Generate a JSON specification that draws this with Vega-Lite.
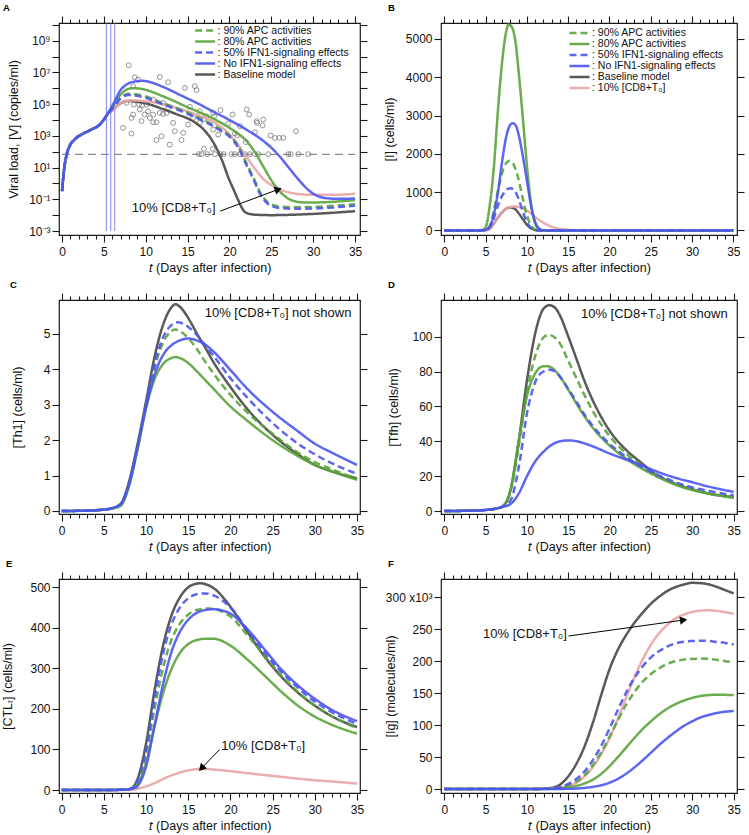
{
"$schema":"https://vega.github.io/schema/vega-lite/v6.json",
"padding":{"left":0,"top":2,"right":0,"bottom":0},
"config":{"font":"Liberation Sans","view":{"stroke":"#1a1a1a","strokeWidth":1.2},
"axis":{"domain":false,"grid":false,"tickColor":"#1a1a1a","tickWidth":1.1,"labelColor":"#111","titleColor":"#111","labelFontSize":12,"titleFontSize":12.5,"titleFontWeight":"normal","labelFont":"Liberation Sans","titleFont":"Liberation Sans"},
"legend":{"labelFont":"Liberation Sans"},"title":{"font":"Liberation Sans"}},
"datasets":{
"A":[
{"s":"k","t":0,"v":0.33},{"s":"k","t":0.3,"v":12.6},{"s":"k","t":0.5,"v":50},{"s":"k","t":0.9,"v":224},{"s":"k","t":1.5,"v":590},{"s":"k","t":2.5,"v":1350},{"s":"k","t":3.5,"v":2500},{"s":"k","t":4.5,"v":5100},{"s":"k","t":5,"v":10700},
{"s":"k","t":5.5,"v":25000},{"s":"k","t":6,"v":40000},{"s":"k","t":6.5,"v":71000},{"s":"k","t":7,"v":112000},{"s":"k","t":7.5,"v":148000},{"s":"k","t":8,"v":158000},{"s":"k","t":9,"v":141000},{"s":"k","t":10,"v":112000},{"s":"k","t":12,"v":50000},{"s":"k","t":14,"v":20000},{"s":"k","t":15,"v":12600},{"s":"k","t":16,"v":6300},{"s":"k","t":17,"v":2240},{"s":"k","t":18,"v":447},{"s":"k","t":19,"v":40},{"s":"k","t":20,"v":1.58},{"s":"k","t":20.5,"v":0.4},{"s":"k","t":21,"v":0.1},{"s":"k","t":21.5,"v":0.028},{"s":"k","t":22,"v":0.014},{"s":"k","t":23,"v":0.0107},{"s":"k","t":25,"v":0.01},{"s":"k","t":30,"v":0.012},{"s":"k","t":35,"v":0.0178},
{"s":"p","t":0,"v":0.33},{"s":"p","t":0.3,"v":12.6},{"s":"p","t":0.5,"v":50},{"s":"p","t":0.9,"v":224},{"s":"p","t":1.5,"v":590},{"s":"p","t":2.5,"v":1350},{"s":"p","t":3.5,"v":2500},{"s":"p","t":4.5,"v":5100},{"s":"p","t":5,"v":10700},
{"s":"p","t":5.5,"v":25000},{"s":"p","t":6,"v":40000},{"s":"p","t":6.5,"v":71000},{"s":"p","t":7,"v":112000},{"s":"p","t":7.5,"v":148000},{"s":"p","t":8,"v":166000},{"s":"p","t":9,"v":166000},{"s":"p","t":10,"v":151000},{"s":"p","t":12,"v":100000},{"s":"p","t":14,"v":52000},{"s":"p","t":15,"v":35000},{"s":"p","t":16,"v":22400},{"s":"p","t":18,"v":7900},{"s":"p","t":20,"v":1260},{"s":"p","t":21,"v":282},{"s":"p","t":22,"v":50},{"s":"p","t":23,"v":8.9},{"s":"p","t":24,"v":2},{"s":"p","t":25,"v":0.79},{"s":"p","t":26,"v":0.42},{"s":"p","t":27,"v":0.28},{"s":"p","t":28,"v":0.224},{"s":"p","t":30,"v":0.19},{"s":"p","t":32,"v":0.19},{"s":"p","t":35,"v":0.22},
{"s":"g8","t":0,"v":0.33},{"s":"g8","t":0.3,"v":12.6},{"s":"g8","t":0.5,"v":50},{"s":"g8","t":0.9,"v":224},{"s":"g8","t":1.5,"v":590},{"s":"g8","t":2.5,"v":1350},{"s":"g8","t":3.5,"v":2500},{"s":"g8","t":4.5,"v":5100},{"s":"g8","t":5,"v":10700},
{"s":"g8","t":5.5,"v":26000},{"s":"g8","t":6,"v":63000},{"s":"g8","t":6.5,"v":158000},{"s":"g8","t":7,"v":400000},{"s":"g8","t":7.5,"v":710000},{"s":"g8","t":8,"v":930000},{"s":"g8","t":8.5,"v":1000000},{"s":"g8","t":9,"v":980000},{"s":"g8","t":10,"v":790000},{"s":"g8","t":12,"v":320000},{"s":"g8","t":14,"v":112000},{"s":"g8","t":15,"v":63000},{"s":"g8","t":16,"v":38000},{"s":"g8","t":18,"v":12600},{"s":"g8","t":20,"v":3200},{"s":"g8","t":21,"v":1410},{"s":"g8","t":22,"v":500},{"s":"g8","t":23,"v":100},{"s":"g8","t":24,"v":12.6},{"s":"g8","t":25,"v":1.58},{"s":"g8","t":26,"v":0.316},{"s":"g8","t":27,"v":0.112},{"s":"g8","t":28,"v":0.071},{"s":"g8","t":29,"v":0.063},{"s":"g8","t":30,"v":0.063},{"s":"g8","t":35,"v":0.089},
{"s":"g9","t":0,"v":0.33},{"s":"g9","t":0.3,"v":12.6},{"s":"g9","t":0.5,"v":50},{"s":"g9","t":0.9,"v":224},{"s":"g9","t":1.5,"v":590},{"s":"g9","t":2.5,"v":1350},{"s":"g9","t":3.5,"v":2500},{"s":"g9","t":4.5,"v":5100},{"s":"g9","t":5,"v":10700},
{"s":"g9","t":5.5,"v":25000},{"s":"g9","t":6,"v":55000},{"s":"g9","t":6.5,"v":126000},{"s":"g9","t":7,"v":250000},{"s":"g9","t":7.5,"v":380000},{"s":"g9","t":8,"v":450000},{"s":"g9","t":9,"v":400000},{"s":"g9","t":10,"v":300000},{"s":"g9","t":12,"v":120000},{"s":"g9","t":14,"v":48000},{"s":"g9","t":15,"v":29000},{"s":"g9","t":16,"v":17000},{"s":"g9","t":17,"v":9500},{"s":"g9","t":18,"v":5000},{"s":"g9","t":19,"v":2400},{"s":"g9","t":20,"v":1070},{"s":"g9","t":21,"v":251},{"s":"g9","t":22,"v":20},{"s":"g9","t":23,"v":1.58},{"s":"g9","t":23.5,"v":0.4},{"s":"g9","t":24,"v":0.141},{"s":"g9","t":24.5,"v":0.071},{"s":"g9","t":25,"v":0.048},{"s":"g9","t":26,"v":0.035},{"s":"g9","t":28,"v":0.032},{"s":"g9","t":30,"v":0.033},{"s":"g9","t":35,"v":0.05},
{"s":"b0","t":0,"v":0.33},{"s":"b0","t":0.3,"v":12.6},{"s":"b0","t":0.5,"v":50},{"s":"b0","t":0.9,"v":224},{"s":"b0","t":1.5,"v":590},{"s":"b0","t":2.5,"v":1350},{"s":"b0","t":3.5,"v":2500},{"s":"b0","t":4.5,"v":5100},{"s":"b0","t":5,"v":10700},
{"s":"b0","t":5.5,"v":28000},{"s":"b0","t":6,"v":79000},{"s":"b0","t":6.5,"v":250000},{"s":"b0","t":7,"v":790000},{"s":"b0","t":7.5,"v":1410000},{"s":"b0","t":8,"v":2100000},{"s":"b0","t":9,"v":2800000},{"s":"b0","t":9.5,"v":2950000},{"s":"b0","t":10,"v":2800000},{"s":"b0","t":12,"v":1260000},{"s":"b0","t":14,"v":400000},{"s":"b0","t":15,"v":224000},{"s":"b0","t":16,"v":126000},{"s":"b0","t":18,"v":35000},{"s":"b0","t":20,"v":10000},{"s":"b0","t":22,"v":2500},{"s":"b0","t":24,"v":500},{"s":"b0","t":25,"v":178},{"s":"b0","t":26,"v":50},{"s":"b0","t":27,"v":11.2},{"s":"b0","t":28,"v":2.5},{"s":"b0","t":29,"v":0.63},{"s":"b0","t":30,"v":0.224},{"s":"b0","t":31,"v":0.132},{"s":"b0","t":32,"v":0.112},{"s":"b0","t":33,"v":0.107},{"s":"b0","t":35,"v":0.112},
{"s":"b5","t":0,"v":0.33},{"s":"b5","t":0.3,"v":12.6},{"s":"b5","t":0.5,"v":50},{"s":"b5","t":0.9,"v":224},{"s":"b5","t":1.5,"v":590},{"s":"b5","t":2.5,"v":1350},{"s":"b5","t":3.5,"v":2500},{"s":"b5","t":4.5,"v":5100},{"s":"b5","t":5,"v":10700},
{"s":"b5","t":5.5,"v":25000},{"s":"b5","t":6,"v":52000},{"s":"b5","t":6.5,"v":112000},{"s":"b5","t":7,"v":224000},{"s":"b5","t":7.5,"v":330000},{"s":"b5","t":8,"v":380000},{"s":"b5","t":9,"v":330000},{"s":"b5","t":10,"v":250000},{"s":"b5","t":12,"v":100000},{"s":"b5","t":14,"v":40000},{"s":"b5","t":15,"v":24000},{"s":"b5","t":16,"v":14100},{"s":"b5","t":17,"v":7900},{"s":"b5","t":18,"v":4200},{"s":"b5","t":19,"v":2000},{"s":"b5","t":20,"v":890},{"s":"b5","t":21,"v":200},{"s":"b5","t":22,"v":15.8},{"s":"b5","t":23,"v":1.26},{"s":"b5","t":23.5,"v":0.316},{"s":"b5","t":24,"v":0.112},{"s":"b5","t":24.5,"v":0.056},{"s":"b5","t":25,"v":0.038},{"s":"b5","t":26,"v":0.028},{"s":"b5","t":28,"v":0.025},{"s":"b5","t":30,"v":0.026},{"s":"b5","t":35,"v":0.04}
],
"Apts":[
{"t":7.97,"v":28000000},{"t":8.69,"v":4900000},{"t":9.08,"v":3500000},{"t":8.49,"v":1350000},{"t":11.68,"v":5100000},{"t":12.67,"v":2400000},{"t":14.67,"v":1050000},{"t":15.86,"v":1350000},{"t":16.07,"v":760000},{"t":9.2,"v":93000},{"t":9.56,"v":85000},{"t":10.28,"v":35000},{"t":8.49,"v":22000},{"t":8.3,"v":13500},{"t":10.88,"v":22000},{"t":11.68,"v":28000},{"t":12.07,"v":24000},{"t":12.67,"v":58000},{"t":9.49,"v":8500},{"t":10.88,"v":7200},{"t":15.27,"v":68000},{"t":16.46,"v":35000},{"t":18.05,"v":28000},{"t":18.17,"v":17000},{"t":18.93,"v":42000},{"t":20.37,"v":22000},{"t":22.05,"v":46000},{"t":22.36,"v":22000},{"t":24.03,"v":10700},{"t":23.31,"v":6600},{"t":23.96,"v":4500},{"t":19.85,"v":6000},{"t":21.25,"v":4100},{"t":23.04,"v":1700},{"t":24.91,"v":1050},{"t":25.43,"v":740},{"t":25.95,"v":740},{"t":26.42,"v":740},{"t":27.94,"v":1950},{"t":20.65,"v":1400},{"t":20.92,"v":1100},{"t":21.96,"v":400},{"t":16.94,"v":150},{"t":18.0,"v":150},
{"t":16.34,"v":70},{"t":16.66,"v":70},{"t":17.34,"v":70},{"t":18.26,"v":70},{"t":18.93,"v":70},{"t":19.33,"v":70},{"t":20.25,"v":70},{"t":20.65,"v":70},{"t":21.25,"v":70},{"t":21.84,"v":70},{"t":22.44,"v":70},{"t":23.04,"v":70},{"t":23.44,"v":70},{"t":24.63,"v":70},{"t":27.03,"v":70},{"t":27.31,"v":70},{"t":28.22,"v":70},{"t":29.41,"v":70},
{"t":8.29,"v":1400},{"t":7.29,"v":3200},{"t":11.28,"v":7200},{"t":11.88,"v":950},{"t":11.28,"v":540},{"t":12.87,"v":280},{"t":13.47,"v":1950},{"t":14.47,"v":1550},{"t":14.27,"v":540},{"t":13.27,"v":6600},{"t":15.07,"v":5100},{"t":15.66,"v":13500},{"t":16.46,"v":6600},{"t":16.86,"v":10700},{"t":17.26,"v":17000},{"t":18.05,"v":2500},{"t":18.65,"v":1200},{"t":23.24,"v":8300},{"t":8.57,"v":93000},{"t":9.29,"v":46000},{"t":9.88,"v":22000},{"t":10.48,"v":13500},{"t":10.08,"v":93000},{"t":10.88,"v":195000},{"t":12.08,"v":120000},{"t":12.47,"v":28000},{"t":7.69,"v":120000}
],
"Avl":[{"t":5.3},{"t":5.82},{"t":6.3}],
"Adl":[{"v":68}],
"Aann":[{"t":8.33,"v":0.0295,"label":"10% [CD8+T₀]"}],
"Aarr":[{"t":18.89,"v":0.018,"t2":25.83,"v2":0.42}],
"B":[
{"s":"k","t":0,"v":0},{"s":"k","t":4,"v":0},{"s":"k","t":4.5,"v":1},{"s":"k","t":5,"v":8},{"s":"k","t":5.5,"v":50},{"s":"k","t":6,"v":180},{"s":"k","t":6.5,"v":340},{"s":"k","t":7,"v":470},{"s":"k","t":7.5,"v":570},{"s":"k","t":8,"v":600},{"s":"k","t":8.5,"v":570},{"s":"k","t":9,"v":450},{"s":"k","t":9.5,"v":300},{"s":"k","t":10,"v":150},{"s":"k","t":10.5,"v":55},{"s":"k","t":11,"v":12},{"s":"k","t":11.5,"v":0},{"s":"k","t":35,"v":0},
{"s":"p","t":0,"v":0},{"s":"p","t":4,"v":0},{"s":"p","t":4.5,"v":1},{"s":"p","t":5,"v":8},{"s":"p","t":5.5,"v":50},{"s":"p","t":6,"v":180},{"s":"p","t":6.5,"v":340},{"s":"p","t":7,"v":470},{"s":"p","t":7.5,"v":570},{"s":"p","t":8,"v":610},{"s":"p","t":8.5,"v":625},{"s":"p","t":9,"v":615},{"s":"p","t":9.5,"v":580},{"s":"p","t":10,"v":520},{"s":"p","t":10.5,"v":440},{"s":"p","t":11,"v":350},{"s":"p","t":12,"v":200},{"s":"p","t":13,"v":95},{"s":"p","t":14,"v":40},{"s":"p","t":15,"v":15},{"s":"p","t":16,"v":5},{"s":"p","t":17,"v":0},{"s":"p","t":35,"v":0},
{"s":"g8","t":0,"v":0},{"s":"g8","t":4,"v":0},{"s":"g8","t":4.5,"v":5},{"s":"g8","t":5,"v":80},{"s":"g8","t":5.5,"v":650},{"s":"g8","t":6,"v":1650},{"s":"g8","t":6.5,"v":3150},{"s":"g8","t":7,"v":4400},{"s":"g8","t":7.5,"v":5200},{"s":"g8","t":7.8,"v":5380},{"s":"g8","t":8.2,"v":5300},{"s":"g8","t":8.6,"v":4950},{"s":"g8","t":9,"v":4150},{"s":"g8","t":9.5,"v":2950},{"s":"g8","t":10,"v":1700},{"s":"g8","t":10.5,"v":700},{"s":"g8","t":11,"v":180},{"s":"g8","t":11.5,"v":30},{"s":"g8","t":12,"v":0},{"s":"g8","t":35,"v":0},
{"s":"g9","t":0,"v":0},{"s":"g9","t":4,"v":0},{"s":"g9","t":4.5,"v":2},{"s":"g9","t":5,"v":15},{"s":"g9","t":5.5,"v":110},{"s":"g9","t":6,"v":520},{"s":"g9","t":6.5,"v":1050},{"s":"g9","t":7,"v":1500},{"s":"g9","t":7.5,"v":1760},{"s":"g9","t":7.9,"v":1820},{"s":"g9","t":8.3,"v":1760},{"s":"g9","t":8.7,"v":1550},{"s":"g9","t":9,"v":1330},{"s":"g9","t":9.5,"v":830},{"s":"g9","t":10,"v":400},{"s":"g9","t":10.5,"v":120},{"s":"g9","t":11,"v":20},{"s":"g9","t":11.5,"v":0},{"s":"g9","t":35,"v":0},
{"s":"b0","t":0,"v":0},{"s":"b0","t":4,"v":0},{"s":"b0","t":4.5,"v":2},{"s":"b0","t":5,"v":15},{"s":"b0","t":5.5,"v":100},{"s":"b0","t":6,"v":420},{"s":"b0","t":6.5,"v":1000},{"s":"b0","t":7,"v":1800},{"s":"b0","t":7.5,"v":2450},{"s":"b0","t":8,"v":2760},{"s":"b0","t":8.3,"v":2800},{"s":"b0","t":8.7,"v":2720},{"s":"b0","t":9,"v":2500},{"s":"b0","t":9.5,"v":1950},{"s":"b0","t":10,"v":1300},{"s":"b0","t":10.5,"v":650},{"s":"b0","t":11,"v":220},{"s":"b0","t":11.5,"v":50},{"s":"b0","t":12,"v":5},{"s":"b0","t":12.5,"v":0},{"s":"b0","t":35,"v":0},
{"s":"b5","t":0,"v":0},{"s":"b5","t":4,"v":0},{"s":"b5","t":4.5,"v":1},{"s":"b5","t":5,"v":10},{"s":"b5","t":5.5,"v":80},{"s":"b5","t":6,"v":330},{"s":"b5","t":6.5,"v":650},{"s":"b5","t":7,"v":900},{"s":"b5","t":7.5,"v":1060},{"s":"b5","t":8,"v":1100},{"s":"b5","t":8.5,"v":1040},{"s":"b5","t":9,"v":820},{"s":"b5","t":9.5,"v":500},{"s":"b5","t":10,"v":220},{"s":"b5","t":10.5,"v":60},{"s":"b5","t":11,"v":10},{"s":"b5","t":11.5,"v":0},{"s":"b5","t":35,"v":0}
],
"Bax":[{"t":0,"v":0}],
"C":[
{"s":"k","t":0,"v":0},{"s":"k","t":3,"v":0.01},{"s":"k","t":5,"v":0.04},{"s":"k","t":6,"v":0.08},{"s":"k","t":7,"v":0.2},{"s":"k","t":8,"v":0.85},{"s":"k","t":9,"v":1.9},{"s":"k","t":10,"v":3.1},{"s":"k","t":11,"v":4.35},{"s":"k","t":12,"v":5.25},{"s":"k","t":13,"v":5.75},{"s":"k","t":13.5,"v":5.84},{"s":"k","t":14,"v":5.77},{"s":"k","t":15,"v":5.45},{"s":"k","t":16,"v":5.02},{"s":"k","t":17,"v":4.62},{"s":"k","t":18,"v":4.2},{"s":"k","t":20,"v":3.5},{"s":"k","t":22,"v":2.88},{"s":"k","t":25,"v":2.15},{"s":"k","t":28,"v":1.6},{"s":"k","t":30,"v":1.3},{"s":"k","t":32,"v":1.12},{"s":"k","t":35,"v":0.92},
{"s":"g8","t":0,"v":0},{"s":"g8","t":3,"v":0.01},{"s":"g8","t":5,"v":0.04},{"s":"g8","t":6,"v":0.07},{"s":"g8","t":7,"v":0.15},{"s":"g8","t":8,"v":0.72},{"s":"g8","t":9,"v":1.75},{"s":"g8","t":10,"v":2.9},{"s":"g8","t":11,"v":3.72},{"s":"g8","t":12,"v":4.15},{"s":"g8","t":13,"v":4.32},{"s":"g8","t":13.5,"v":4.35},{"s":"g8","t":14,"v":4.32},{"s":"g8","t":15,"v":4.18},{"s":"g8","t":16,"v":3.95},{"s":"g8","t":17,"v":3.7},{"s":"g8","t":18,"v":3.45},{"s":"g8","t":20,"v":2.95},{"s":"g8","t":22,"v":2.55},{"s":"g8","t":25,"v":2.0},{"s":"g8","t":28,"v":1.55},{"s":"g8","t":30,"v":1.3},{"s":"g8","t":32,"v":1.12},{"s":"g8","t":35,"v":0.88},
{"s":"g9","t":0,"v":0},{"s":"g9","t":3,"v":0.01},{"s":"g9","t":5,"v":0.04},{"s":"g9","t":6,"v":0.08},{"s":"g9","t":7,"v":0.2},{"s":"g9","t":8,"v":0.8},{"s":"g9","t":9,"v":1.85},{"s":"g9","t":10,"v":3.0},{"s":"g9","t":11,"v":4.05},{"s":"g9","t":12,"v":4.75},{"s":"g9","t":13,"v":5.08},{"s":"g9","t":13.4,"v":5.13},{"s":"g9","t":14,"v":5.08},{"s":"g9","t":15,"v":4.88},{"s":"g9","t":16,"v":4.58},{"s":"g9","t":17,"v":4.22},{"s":"g9","t":18,"v":3.88},{"s":"g9","t":20,"v":3.28},{"s":"g9","t":22,"v":2.78},{"s":"g9","t":25,"v":2.18},{"s":"g9","t":28,"v":1.65},{"s":"g9","t":30,"v":1.38},{"s":"g9","t":32,"v":1.18},{"s":"g9","t":35,"v":0.9},
{"s":"b0","t":0,"v":0},{"s":"b0","t":3,"v":0.01},{"s":"b0","t":5,"v":0.04},{"s":"b0","t":6,"v":0.08},{"s":"b0","t":7,"v":0.2},{"s":"b0","t":8,"v":0.75},{"s":"b0","t":9,"v":1.8},{"s":"b0","t":10,"v":2.95},{"s":"b0","t":11,"v":3.85},{"s":"b0","t":12,"v":4.4},{"s":"b0","t":13,"v":4.68},{"s":"b0","t":14,"v":4.82},{"s":"b0","t":15,"v":4.87},{"s":"b0","t":16,"v":4.82},{"s":"b0","t":17,"v":4.7},{"s":"b0","t":18,"v":4.5},{"s":"b0","t":20,"v":3.98},{"s":"b0","t":22,"v":3.45},{"s":"b0","t":25,"v":2.8},{"s":"b0","t":28,"v":2.25},{"s":"b0","t":30,"v":1.9},{"s":"b0","t":32,"v":1.65},{"s":"b0","t":35,"v":1.3},
{"s":"b5","t":0,"v":0},{"s":"b5","t":3,"v":0.01},{"s":"b5","t":5,"v":0.04},{"s":"b5","t":6,"v":0.08},{"s":"b5","t":7,"v":0.2},{"s":"b5","t":8,"v":0.8},{"s":"b5","t":9,"v":1.85},{"s":"b5","t":10,"v":3.0},{"s":"b5","t":11,"v":4.15},{"s":"b5","t":12,"v":4.9},{"s":"b5","t":13,"v":5.25},{"s":"b5","t":13.7,"v":5.33},{"s":"b5","t":14.5,"v":5.28},{"s":"b5","t":15,"v":5.2},{"s":"b5","t":16,"v":4.98},{"s":"b5","t":17,"v":4.68},{"s":"b5","t":18,"v":4.38},{"s":"b5","t":20,"v":3.75},{"s":"b5","t":22,"v":3.2},{"s":"b5","t":25,"v":2.48},{"s":"b5","t":28,"v":1.9},{"s":"b5","t":30,"v":1.6},{"s":"b5","t":32,"v":1.35},{"s":"b5","t":35,"v":1.05}
],
"Cann":[{"t":34.33,"v":5.58,"label":"10% [CD8+T₀] not shown"}],
"D":[
{"s":"k","t":0,"v":0},{"s":"k","t":4,"v":0.3},{"s":"k","t":5,"v":0.6},{"s":"k","t":6,"v":1.2},{"s":"k","t":7,"v":2.5},{"s":"k","t":8,"v":12},{"s":"k","t":9,"v":40},{"s":"k","t":10,"v":75},{"s":"k","t":11,"v":102},{"s":"k","t":12,"v":116},{"s":"k","t":12.7,"v":118},{"s":"k","t":13.5,"v":116},{"s":"k","t":14,"v":112},{"s":"k","t":15,"v":100},{"s":"k","t":16,"v":87},{"s":"k","t":17,"v":74},{"s":"k","t":18,"v":63},{"s":"k","t":20,"v":46},{"s":"k","t":22,"v":35},{"s":"k","t":24,"v":27},{"s":"k","t":25,"v":23},{"s":"k","t":28,"v":15.5},{"s":"k","t":30,"v":12.5},{"s":"k","t":32,"v":10},{"s":"k","t":35,"v":8},
{"s":"g8","t":0,"v":0},{"s":"g8","t":4,"v":0.3},{"s":"g8","t":5,"v":0.6},{"s":"g8","t":6,"v":1.2},{"s":"g8","t":7,"v":2.5},{"s":"g8","t":8,"v":12},{"s":"g8","t":9,"v":40},{"s":"g8","t":10,"v":66},{"s":"g8","t":11,"v":79},{"s":"g8","t":12,"v":83},{"s":"g8","t":12.5,"v":83},{"s":"g8","t":13.5,"v":80},{"s":"g8","t":14,"v":77},{"s":"g8","t":15,"v":69.5},{"s":"g8","t":16,"v":61.5},{"s":"g8","t":17,"v":54},{"s":"g8","t":18,"v":47.5},{"s":"g8","t":20,"v":37.5},{"s":"g8","t":22,"v":30},{"s":"g8","t":24,"v":24},{"s":"g8","t":25,"v":21.5},{"s":"g8","t":28,"v":15},{"s":"g8","t":30,"v":12},{"s":"g8","t":32,"v":10},{"s":"g8","t":35,"v":7.5},
{"s":"g9","t":0,"v":0},{"s":"g9","t":4,"v":0.3},{"s":"g9","t":5,"v":0.6},{"s":"g9","t":6,"v":1.2},{"s":"g9","t":7,"v":2.5},{"s":"g9","t":8,"v":11},{"s":"g9","t":9,"v":37},{"s":"g9","t":10,"v":68},{"s":"g9","t":11,"v":89},{"s":"g9","t":12,"v":99.5},{"s":"g9","t":12.6,"v":101},{"s":"g9","t":13.5,"v":99},{"s":"g9","t":14,"v":96},{"s":"g9","t":15,"v":86},{"s":"g9","t":16,"v":76},{"s":"g9","t":17,"v":66},{"s":"g9","t":18,"v":57},{"s":"g9","t":20,"v":43},{"s":"g9","t":22,"v":33},{"s":"g9","t":24,"v":26},{"s":"g9","t":25,"v":22.5},{"s":"g9","t":28,"v":15.5},{"s":"g9","t":30,"v":12.5},{"s":"g9","t":32,"v":10},{"s":"g9","t":35,"v":8},
{"s":"b0","t":0,"v":0},{"s":"b0","t":4,"v":0.3},{"s":"b0","t":5,"v":0.6},{"s":"b0","t":6,"v":1.2},{"s":"b0","t":7,"v":2.3},{"s":"b0","t":8,"v":4},{"s":"b0","t":9,"v":10},{"s":"b0","t":10,"v":20},{"s":"b0","t":11,"v":28.5},{"s":"b0","t":12,"v":34},{"s":"b0","t":13,"v":38},{"s":"b0","t":14,"v":40},{"s":"b0","t":15,"v":40.5},{"s":"b0","t":16,"v":40},{"s":"b0","t":17,"v":38.7},{"s":"b0","t":18,"v":37},{"s":"b0","t":20,"v":33},{"s":"b0","t":22,"v":29.5},{"s":"b0","t":24,"v":26},{"s":"b0","t":25,"v":24},{"s":"b0","t":28,"v":19},{"s":"b0","t":30,"v":16.5},{"s":"b0","t":32,"v":14},{"s":"b0","t":35,"v":11},
{"s":"b5","t":0,"v":0},{"s":"b5","t":4,"v":0.3},{"s":"b5","t":5,"v":0.6},{"s":"b5","t":6,"v":1.2},{"s":"b5","t":7,"v":2.4},{"s":"b5","t":8,"v":6},{"s":"b5","t":9,"v":25},{"s":"b5","t":10,"v":56},{"s":"b5","t":11,"v":74},{"s":"b5","t":12,"v":80},{"s":"b5","t":12.8,"v":81},{"s":"b5","t":13.5,"v":79.5},{"s":"b5","t":14,"v":77},{"s":"b5","t":15,"v":70},{"s":"b5","t":16,"v":62.5},{"s":"b5","t":17,"v":55},{"s":"b5","t":18,"v":48.5},{"s":"b5","t":20,"v":38.5},{"s":"b5","t":22,"v":31},{"s":"b5","t":24,"v":25},{"s":"b5","t":25,"v":22.5},{"s":"b5","t":28,"v":16.5},{"s":"b5","t":30,"v":13.5},{"s":"b5","t":32,"v":11.5},{"s":"b5","t":35,"v":9}
],
"Dann":[{"t":34.27,"v":112.9,"label":"10% [CD8+T₀] not shown"}],
"E":[
{"s":"k","t":0,"v":0},{"s":"k","t":5,"v":0},{"s":"k","t":7,"v":0.5},{"s":"k","t":8,"v":2},{"s":"k","t":8.5,"v":8},{"s":"k","t":9,"v":28},{"s":"k","t":10,"v":115},{"s":"k","t":11,"v":245},{"s":"k","t":12,"v":355},{"s":"k","t":13,"v":430},{"s":"k","t":14,"v":475},{"s":"k","t":15,"v":500},{"s":"k","t":16,"v":509},{"s":"k","t":16.5,"v":510},{"s":"k","t":17,"v":508},{"s":"k","t":18,"v":498},{"s":"k","t":20,"v":452},{"s":"k","t":22,"v":390},{"s":"k","t":24,"v":330},{"s":"k","t":26,"v":280},{"s":"k","t":28,"v":240},{"s":"k","t":30,"v":208},{"s":"k","t":32,"v":182},{"s":"k","t":35,"v":155},
{"s":"p","t":0,"v":0},{"s":"p","t":5,"v":0},{"s":"p","t":8,"v":0},{"s":"p","t":9,"v":3},{"s":"p","t":10,"v":9},{"s":"p","t":11,"v":17},{"s":"p","t":12,"v":27},{"s":"p","t":13,"v":36},{"s":"p","t":14,"v":43},{"s":"p","t":15,"v":48.5},{"s":"p","t":16,"v":51.5},{"s":"p","t":16.5,"v":52},{"s":"p","t":17,"v":51.8},{"s":"p","t":18,"v":50.5},{"s":"p","t":20,"v":46.5},{"s":"p","t":22,"v":41.5},{"s":"p","t":24,"v":37},{"s":"p","t":26,"v":32.5},{"s":"p","t":28,"v":28},{"s":"p","t":30,"v":24},{"s":"p","t":32,"v":21},{"s":"p","t":35,"v":16},
{"s":"g8","t":0,"v":0},{"s":"g8","t":5,"v":0},{"s":"g8","t":7,"v":0.5},{"s":"g8","t":8,"v":2},{"s":"g8","t":8.5,"v":5},{"s":"g8","t":9,"v":15},{"s":"g8","t":10,"v":68},{"s":"g8","t":11,"v":158},{"s":"g8","t":12,"v":238},{"s":"g8","t":13,"v":298},{"s":"g8","t":14,"v":338},{"s":"g8","t":15,"v":360},{"s":"g8","t":16,"v":370},{"s":"g8","t":17,"v":373},{"s":"g8","t":18,"v":373},{"s":"g8","t":20,"v":356},{"s":"g8","t":22,"v":322},{"s":"g8","t":24,"v":283},{"s":"g8","t":26,"v":243},{"s":"g8","t":28,"v":208},{"s":"g8","t":30,"v":181},{"s":"g8","t":32,"v":161},{"s":"g8","t":35,"v":139},
{"s":"g9","t":0,"v":0},{"s":"g9","t":5,"v":0},{"s":"g9","t":7,"v":0.5},{"s":"g9","t":8,"v":2},{"s":"g9","t":8.5,"v":6},{"s":"g9","t":9,"v":20},{"s":"g9","t":10,"v":88},{"s":"g9","t":11,"v":200},{"s":"g9","t":12,"v":300},{"s":"g9","t":13,"v":370},{"s":"g9","t":14,"v":410},{"s":"g9","t":15,"v":433},{"s":"g9","t":16,"v":444},{"s":"g9","t":17.5,"v":448},{"s":"g9","t":19,"v":440},{"s":"g9","t":20,"v":428},{"s":"g9","t":22,"v":382},{"s":"g9","t":24,"v":332},{"s":"g9","t":26,"v":283},{"s":"g9","t":28,"v":242},{"s":"g9","t":30,"v":208},{"s":"g9","t":32,"v":182},{"s":"g9","t":35,"v":152},
{"s":"b0","t":0,"v":0},{"s":"b0","t":5,"v":0},{"s":"b0","t":7,"v":0.5},{"s":"b0","t":8,"v":2},{"s":"b0","t":8.5,"v":4},{"s":"b0","t":9,"v":10},{"s":"b0","t":10,"v":58},{"s":"b0","t":11,"v":158},{"s":"b0","t":12,"v":260},{"s":"b0","t":13,"v":340},{"s":"b0","t":14,"v":390},{"s":"b0","t":15,"v":420},{"s":"b0","t":16,"v":437},{"s":"b0","t":17,"v":444},{"s":"b0","t":18,"v":446},{"s":"b0","t":19,"v":443},{"s":"b0","t":20,"v":435},{"s":"b0","t":22,"v":397},{"s":"b0","t":24,"v":348},{"s":"b0","t":26,"v":298},{"s":"b0","t":28,"v":258},{"s":"b0","t":30,"v":225},{"s":"b0","t":32,"v":198},{"s":"b0","t":35,"v":170},
{"s":"b5","t":0,"v":0},{"s":"b5","t":5,"v":0},{"s":"b5","t":7,"v":0.5},{"s":"b5","t":8,"v":2},{"s":"b5","t":8.5,"v":7},{"s":"b5","t":9,"v":24},{"s":"b5","t":10,"v":100},{"s":"b5","t":11,"v":225},{"s":"b5","t":12,"v":335},{"s":"b5","t":13,"v":408},{"s":"b5","t":14,"v":450},{"s":"b5","t":15,"v":473},{"s":"b5","t":16,"v":483},{"s":"b5","t":17,"v":485},{"s":"b5","t":18,"v":480},{"s":"b5","t":20,"v":450},{"s":"b5","t":22,"v":395},{"s":"b5","t":24,"v":340},{"s":"b5","t":26,"v":292},{"s":"b5","t":28,"v":252},{"s":"b5","t":30,"v":218},{"s":"b5","t":32,"v":192},{"s":"b5","t":35,"v":163}
],
"Eann":[{"t":18.92,"v":109.6,"label":"10% [CD8+T₀]"}],
"Earr":[{"t":18.72,"v":99.9,"t2":16.56,"v2":53.5}],
"F":[
{"s":"k","t":0,"v":0},{"s":"k","t":10,"v":0},{"s":"k","t":12,"v":0.5},{"s":"k","t":13,"v":2},{"s":"k","t":14,"v":7},{"s":"k","t":15,"v":20},{"s":"k","t":16,"v":40},{"s":"k","t":17,"v":68},{"s":"k","t":18,"v":105},{"s":"k","t":19,"v":148},{"s":"k","t":20,"v":188},{"s":"k","t":21,"v":218},{"s":"k","t":22,"v":241},{"s":"k","t":23,"v":260},{"s":"k","t":24,"v":276},{"s":"k","t":25,"v":290},{"s":"k","t":26,"v":301},{"s":"k","t":27,"v":310},{"s":"k","t":28,"v":316},{"s":"k","t":29,"v":320},{"s":"k","t":30,"v":322.5},{"s":"k","t":31,"v":322},{"s":"k","t":32,"v":320},{"s":"k","t":33,"v":316},{"s":"k","t":34,"v":311},{"s":"k","t":35,"v":306},
{"s":"p","t":0,"v":0},{"s":"p","t":10,"v":0},{"s":"p","t":12,"v":0.3},{"s":"p","t":13,"v":1},{"s":"p","t":14,"v":2.5},{"s":"p","t":15,"v":5},{"s":"p","t":16,"v":10},{"s":"p","t":17,"v":20},{"s":"p","t":18,"v":35},{"s":"p","t":19,"v":55},{"s":"p","t":20,"v":80},{"s":"p","t":21,"v":110},{"s":"p","t":22,"v":143},{"s":"p","t":23,"v":175},{"s":"p","t":24,"v":203},{"s":"p","t":25,"v":226},{"s":"p","t":26,"v":244},{"s":"p","t":27,"v":257},{"s":"p","t":28,"v":267},{"s":"p","t":29,"v":273},{"s":"p","t":30,"v":277},{"s":"p","t":31,"v":279},{"s":"p","t":32,"v":279.5},{"s":"p","t":33,"v":278.5},{"s":"p","t":34,"v":276.5},{"s":"p","t":35,"v":274},
{"s":"g8","t":0,"v":0},{"s":"g8","t":10,"v":0},{"s":"g8","t":13,"v":0.3},{"s":"g8","t":14,"v":1},{"s":"g8","t":15,"v":2.5},{"s":"g8","t":16,"v":5},{"s":"g8","t":17,"v":9},{"s":"g8","t":18,"v":15},{"s":"g8","t":19,"v":24},{"s":"g8","t":20,"v":36},{"s":"g8","t":21,"v":50},{"s":"g8","t":22,"v":65},{"s":"g8","t":23,"v":80},{"s":"g8","t":24,"v":94},{"s":"g8","t":25,"v":106},{"s":"g8","t":26,"v":117},{"s":"g8","t":27,"v":126},{"s":"g8","t":28,"v":133},{"s":"g8","t":29,"v":138.5},{"s":"g8","t":30,"v":142.5},{"s":"g8","t":31,"v":145.5},{"s":"g8","t":32,"v":147},{"s":"g8","t":33,"v":147.5},{"s":"g8","t":34,"v":147.3},{"s":"g8","t":35,"v":147},
{"s":"g9","t":0,"v":0},{"s":"g9","t":10,"v":0},{"s":"g9","t":12,"v":0.3},{"s":"g9","t":13,"v":1},{"s":"g9","t":14,"v":2.5},{"s":"g9","t":15,"v":6},{"s":"g9","t":16,"v":12},{"s":"g9","t":17,"v":22},{"s":"g9","t":18,"v":38},{"s":"g9","t":19,"v":58},{"s":"g9","t":20,"v":82},{"s":"g9","t":21,"v":108},{"s":"g9","t":22,"v":132},{"s":"g9","t":23,"v":152},{"s":"g9","t":24,"v":168},{"s":"g9","t":25,"v":180},{"s":"g9","t":26,"v":189},{"s":"g9","t":27,"v":196},{"s":"g9","t":28,"v":200},{"s":"g9","t":29,"v":202.5},{"s":"g9","t":30,"v":203.5},{"s":"g9","t":31,"v":204},{"s":"g9","t":32,"v":203.5},{"s":"g9","t":33,"v":202},{"s":"g9","t":34,"v":200},{"s":"g9","t":35,"v":198},
{"s":"b0","t":0,"v":0},{"s":"b0","t":10,"v":0},{"s":"b0","t":15,"v":0.3},{"s":"b0","t":16,"v":0.8},{"s":"b0","t":17,"v":1.8},{"s":"b0","t":18,"v":3.5},{"s":"b0","t":19,"v":6},{"s":"b0","t":20,"v":10},{"s":"b0","t":21,"v":16},{"s":"b0","t":22,"v":24},{"s":"b0","t":23,"v":34},{"s":"b0","t":24,"v":45},{"s":"b0","t":25,"v":57},{"s":"b0","t":26,"v":69},{"s":"b0","t":27,"v":80},{"s":"b0","t":28,"v":90},{"s":"b0","t":29,"v":99},{"s":"b0","t":30,"v":106},{"s":"b0","t":31,"v":112},{"s":"b0","t":32,"v":116},{"s":"b0","t":33,"v":119},{"s":"b0","t":34,"v":121},{"s":"b0","t":35,"v":122},
{"s":"b5","t":0,"v":0},{"s":"b5","t":10,"v":0},{"s":"b5","t":12,"v":0.4},{"s":"b5","t":13,"v":1.2},{"s":"b5","t":14,"v":3},{"s":"b5","t":15,"v":8},{"s":"b5","t":16,"v":16},{"s":"b5","t":17,"v":28},{"s":"b5","t":18,"v":46},{"s":"b5","t":19,"v":68},{"s":"b5","t":20,"v":95},{"s":"b5","t":21,"v":124},{"s":"b5","t":22,"v":151},{"s":"b5","t":23,"v":174},{"s":"b5","t":24,"v":192},{"s":"b5","t":25,"v":206},{"s":"b5","t":26,"v":216},{"s":"b5","t":27,"v":223},{"s":"b5","t":28,"v":228},{"s":"b5","t":29,"v":230.5},{"s":"b5","t":30,"v":231.5},{"s":"b5","t":31,"v":232},{"s":"b5","t":32,"v":231.5},{"s":"b5","t":33,"v":230},{"s":"b5","t":34,"v":228.5},{"s":"b5","t":35,"v":226}
],
"Fann":[{"t":14.82,"v":241.8,"label":"10% [CD8+T₀]"}],
"Farr":[{"t":15.02,"v":239.3,"t2":28.94,"v2":264.3}]
},
"columns":2,
"bounds":"flush",
"spacing":{"row":65,"column":81},
"resolve":{"scale":{"color":"independent","strokeDash":"independent"},"legend":{"color":"independent","strokeDash":"independent"}},
"concat":[
{"width":301,"height":212,
"title":{"text":"A","anchor":"start","frame":"group","dx":-56,"offset":-5.5,"fontSize":9.5,"fontWeight":"bold","baseline":"alphabetic"},
"resolve":{"scale":{"x":"independent","y":"independent"},"axis":{"x":"independent","y":"independent"}},
"layer":[
{"data":{"name":"Avl"},"mark":{"type":"rule","color":"#8585f2","strokeWidth":1},
"encoding":{"x":{"field":"t","type":"quantitative","scale":{"domain":[-0.36,35.59],"nice":false,"zero":false},"axis":null},
"y":{"datum":0.001,"type":"quantitative","scale":{"type":"log","domain":[0.00056,13000000000],"nice":false},"axis":null},
"y2":{"datum":12000000000}}},
{"data":{"name":"Adl"},"mark":{"type":"rule","color":"#8c8c8c","strokeWidth":1.2,"strokeDash":[8,5]},
"encoding":{"x":{"datum":0,"type":"quantitative","scale":{"domain":[-0.36,35.59],"nice":false,"zero":false},"axis":null},"x2":{"datum":35},
"y":{"field":"v","type":"quantitative","scale":{"type":"log","domain":[0.00056,13000000000],"nice":false},"axis":null}}},
{"data":{"name":"Apts"},"mark":{"type":"point","shape":"circle","filled":false,"color":"#7a7a7a","strokeWidth":0.8,"size":24,"opacity":1},
"encoding":{"x":{"field":"t","type":"quantitative","scale":{"domain":[-0.36,35.59],"nice":false,"zero":false},"axis":null},
"y":{"field":"v","type":"quantitative","scale":{"type":"log","domain":[0.00056,13000000000],"nice":false},"axis":null}}},
{"data":{"name":"A"},"mark":{"type":"line","strokeWidth":2.5,"interpolate":"monotone","opacity":0.9},
"encoding":{
"x":{"field":"t","type":"quantitative","scale":{"domain":[-0.36,35.59],"nice":false,"zero":false},
"axis":{"orient":"bottom","values":[0,1,2,3,4,5,6,7,8,9,10,11,12,13,14,15,16,17,18,19,20,21,22,23,24,25,26,27,28,29,30,31,32,33,34,35],"labelExpr":"datum.value % 5 == 0 ? datum.label : ''","tickColor":"#1a1a1a","tickSize":{"condition":{"test":"datum.value % 5 == 0","value":7},"value":4},"labelPadding":4,"labelOverlap":false,"labelFlush":false,"title":"𝑡   (Days after infection)","titlePadding":4}},
"y":{"field":"v","type":"quantitative","scale":{"type":"log","domain":[0.00056,13000000000],"nice":false},
"axis":{"orient":"left","values":[0.001,0.01,0.1,1,10,100,1000,10000,100000,1000000,10000000,100000000,1000000000,10000000000],"labelExpr":"round(log(datum.value)/LN10) == 9 ? '10⁹' : round(log(datum.value)/LN10) == 7 ? '10⁷' : round(log(datum.value)/LN10) == 5 ? '10⁵' : round(log(datum.value)/LN10) == 3 ? '10³' : round(log(datum.value)/LN10) == 1 ? '10¹' : round(log(datum.value)/LN10) == -1 ? '10⁻¹' : round(log(datum.value)/LN10) == -3 ? '10⁻³' : ''","tickColor":"#1a1a1a","tickSize":7,"labelPadding":2,"minExtent":30,"maxExtent":30,"title":"Viral load, [V] (copies/ml)","titlePadding":9}},
"color":{"field":"s","type":"nominal","scale":{"domain":["g9","g8","b5","b0","k","p"],"range":["#5ba43b","#5ba43b","#4b55f0","#4b55f0","#474747","#e8a5a5"]},
"legend":{"title":null,"orient":"none","legendX":140.6,"legendY":2,"values":["g9","g8","b5","b0","k"],"symbolType":"M-2.5,0H2.5","symbolSize":64,"symbolStrokeWidth":2.5,"labelFontSize":10.5,"labelOffset":7,"rowPadding":0,"padding":0,"labelColor":"#111","labelExpr":"datum.label == 'g9' ? ': 90% APC activities' : datum.label == 'g8' ? ': 80% APC activities' : datum.label == 'b5' ? ': 50% IFN1-signaling effects' : datum.label == 'b0' ? ': No IFN1-signaling effects' : datum.label == 'k' ? ': Baseline model' : ': 10% [CD8+T₀]'"}},
"strokeDash":{"field":"s","type":"nominal","scale":{"domain":["g9","g8","b5","b0","k","p"],"range":[[7,4],[1,0],[7,4],[1,0],[1,0],[1,0]]},
"legend":{"title":null,"orient":"none","legendX":140.6,"legendY":2,"values":["g9","g8","b5","b0","k"],"symbolType":"M-2.5,0H2.5","symbolSize":64,"symbolStrokeWidth":2.5,"labelFontSize":10.5,"labelOffset":7,"rowPadding":0,"padding":0,"labelColor":"#111","labelExpr":"datum.label == 'g9' ? ': 90% APC activities' : datum.label == 'g8' ? ': 80% APC activities' : datum.label == 'b5' ? ': 50% IFN1-signaling effects' : datum.label == 'b0' ? ': No IFN1-signaling effects' : datum.label == 'k' ? ': Baseline model' : ': 10% [CD8+T₀]'"}}
}},
{"data":{"name":"Aann"},"mark":{"type":"text","align":"left","baseline":"middle","fontSize":13,"color":"#111"},
"encoding":{"x":{"field":"t","type":"quantitative","scale":{"domain":[-0.36,35.59],"nice":false,"zero":false},
"axis":{"orient":"top","values":[0,1,2,3,4,5,6,7,8,9,10,11,12,13,14,15,16,17,18,19,20,21,22,23,24,25,26,27,28,29,30,31,32,33,34,35],"labels":false,"title":null,"tickColor":"#1a1a1a","tickSize":{"condition":{"test":"datum.value % 5 == 0","value":7},"value":4}}},
"y":{"field":"v","type":"quantitative","scale":{"type":"log","domain":[0.00056,13000000000],"nice":false},
"axis":{"orient":"right","values":[0.001,0.01,0.1,1,10,100,1000,10000,100000,1000000,10000000,100000000,1000000000,10000000000],"labels":false,"title":null,"tickColor":"#1a1a1a","tickSize":7}},
"text":{"field":"label"}}},
{"data":{"name":"Aarr"},"mark":{"type":"rule","color":"#000","strokeWidth":1},
"encoding":{"x":{"field":"t","type":"quantitative","scale":{"domain":[-0.36,35.59],"nice":false,"zero":false},"axis":null},"x2":{"field":"t2"},
"y":{"field":"v","type":"quantitative","scale":{"type":"log","domain":[0.00056,13000000000],"nice":false},"axis":null},"y2":{"field":"v2"}}},
{"data":{"name":"Aarr"},"mark":{"type":"point","shape":"triangle-right","filled":true,"color":"#000","size":70,"angle":-20,"opacity":1},
"encoding":{"x":{"field":"t2","type":"quantitative","scale":{"domain":[-0.36,35.59],"nice":false,"zero":false},"axis":null},
"y":{"field":"v2","type":"quantitative","scale":{"type":"log","domain":[0.00056,13000000000],"nice":false},"axis":null}}}
]},
{"width":296,"height":212,
"title":{"text":"B","anchor":"start","frame":"group","dx":-53,"offset":-5.5,"fontSize":9.5,"fontWeight":"bold","baseline":"alphabetic"},
"resolve":{"scale":{"x":"independent","y":"independent"},"axis":{"x":"independent","y":"independent"}},
"layer":[
{"data":{"name":"B"},"mark":{"type":"line","strokeWidth":2.5,"interpolate":"monotone","opacity":0.9},
"encoding":{
"x":{"field":"t","type":"quantitative","scale":{"domain":[-0.4,35.44],"nice":false,"zero":false},
"axis":{"orient":"bottom","values":[0,1,2,3,4,5,6,7,8,9,10,11,12,13,14,15,16,17,18,19,20,21,22,23,24,25,26,27,28,29,30,31,32,33,34,35],"labelExpr":"datum.value % 5 == 0 ? datum.label : ''","tickColor":"#1a1a1a","tickSize":{"condition":{"test":"datum.value % 5 == 0","value":7},"value":4},"labelPadding":4,"labelOverlap":false,"labelFlush":false,"title":"𝑡   (Days after infection)","titlePadding":4}},
"y":{"field":"v","type":"quantitative","scale":{"domain":[-120,5417],"nice":false,"zero":false},
"axis":{"orient":"left","values":[0,1000,2000,3000,4000,5000],"format":"d","tickColor":"#1a1a1a","tickSize":7,"labelPadding":2,"minExtent":30,"maxExtent":30,"title":"[I] (cells/ml)","titlePadding":15}},
"color":{"field":"s","type":"nominal","scale":{"domain":["g9","g8","b5","b0","k","p"],"range":["#5ba43b","#5ba43b","#4b55f0","#4b55f0","#474747","#e8a5a5"]},
"legend":{"title":null,"orient":"none","legendX":133,"legendY":4.5,"symbolType":"M-2.5,0H2.5","symbolSize":64,"symbolStrokeWidth":2.5,"labelFontSize":10.5,"labelOffset":7,"rowPadding":0,"padding":0,"labelColor":"#111","labelExpr":"datum.label == 'g9' ? ': 90% APC activities' : datum.label == 'g8' ? ': 80% APC activities' : datum.label == 'b5' ? ': 50% IFN1-signaling effects' : datum.label == 'b0' ? ': No IFN1-signaling effects' : datum.label == 'k' ? ': Baseline model' : ': 10% [CD8+T₀]'"}},
"strokeDash":{"field":"s","type":"nominal","scale":{"domain":["g9","g8","b5","b0","k","p"],"range":[[7,4],[1,0],[7,4],[1,0],[1,0],[1,0]]},
"legend":{"title":null,"orient":"none","legendX":133,"legendY":4.5,"symbolType":"M-2.5,0H2.5","symbolSize":64,"symbolStrokeWidth":2.5,"labelFontSize":10.5,"labelOffset":7,"rowPadding":0,"padding":0,"labelColor":"#111","labelExpr":"datum.label == 'g9' ? ': 90% APC activities' : datum.label == 'g8' ? ': 80% APC activities' : datum.label == 'b5' ? ': 50% IFN1-signaling effects' : datum.label == 'b0' ? ': No IFN1-signaling effects' : datum.label == 'k' ? ': Baseline model' : ': 10% [CD8+T₀]'"}}
}},
{"data":{"name":"Bax"},"mark":{"type":"point","opacity":0},
"encoding":{"x":{"field":"t","type":"quantitative","scale":{"domain":[-0.4,35.44],"nice":false,"zero":false},
"axis":{"orient":"top","values":[0,1,2,3,4,5,6,7,8,9,10,11,12,13,14,15,16,17,18,19,20,21,22,23,24,25,26,27,28,29,30,31,32,33,34,35],"labels":false,"title":null,"tickColor":"#1a1a1a","tickSize":{"condition":{"test":"datum.value % 5 == 0","value":7},"value":4}}},
"y":{"field":"v","type":"quantitative","scale":{"domain":[-120,5417],"nice":false,"zero":false},
"axis":{"orient":"right","values":[0,1000,2000,3000,4000,5000],"labels":false,"title":null,"tickColor":"#1a1a1a","tickSize":7}}}}
]},
{"width":301,"height":214,
"title":{"text":"C","anchor":"start","frame":"group","dx":-49,"offset":-5.5,"fontSize":9.5,"fontWeight":"bold","baseline":"alphabetic"},
"resolve":{"scale":{"x":"independent","y":"independent"},"axis":{"x":"independent","y":"independent"}},
"layer":[
{"data":{"name":"C"},"mark":{"type":"line","strokeWidth":2.5,"interpolate":"monotone","opacity":0.9},
"encoding":{
"x":{"field":"t","type":"quantitative","scale":{"domain":[-0.32,35.35],"nice":false,"zero":false},
"axis":{"orient":"bottom","values":[0,1,2,3,4,5,6,7,8,9,10,11,12,13,14,15,16,17,18,19,20,21,22,23,24,25,26,27,28,29,30,31,32,33,34,35],"labelExpr":"datum.value % 5 == 0 ? datum.label : ''","tickColor":"#1a1a1a","tickSize":{"condition":{"test":"datum.value % 5 == 0","value":7},"value":4},"labelPadding":4,"labelOverlap":false,"labelFlush":false,"title":"𝑡   (Days after infection)","titlePadding":4}},
"y":{"field":"v","type":"quantitative","scale":{"domain":[-0.085,5.96],"nice":false,"zero":false},
"axis":{"orient":"left","values":[0,1,2,3,4,5],"tickColor":"#1a1a1a","tickSize":7,"labelPadding":2,"minExtent":30,"maxExtent":30,"title":"[Th1] (cells/ml)","titlePadding":4.5}},
"color":{"field":"s","type":"nominal","scale":{"domain":["g9","g8","b5","b0","k","p"],"range":["#5ba43b","#5ba43b","#4b55f0","#4b55f0","#474747","#e8a5a5"]},"legend":null},
"strokeDash":{"field":"s","type":"nominal","scale":{"domain":["g9","g8","b5","b0","k","p"],"range":[[7,4],[1,0],[7,4],[1,0],[1,0],[1,0]]},"legend":null}
}},
{"data":{"name":"Cann"},"mark":{"type":"text","align":"right","baseline":"middle","fontSize":13,"color":"#111"},
"encoding":{"x":{"field":"t","type":"quantitative","scale":{"domain":[-0.32,35.35],"nice":false,"zero":false},
"axis":{"orient":"top","values":[0,1,2,3,4,5,6,7,8,9,10,11,12,13,14,15,16,17,18,19,20,21,22,23,24,25,26,27,28,29,30,31,32,33,34,35],"labels":false,"title":null,"tickColor":"#1a1a1a","tickSize":{"condition":{"test":"datum.value % 5 == 0","value":7},"value":4}}},
"y":{"field":"v","type":"quantitative","scale":{"domain":[-0.085,5.96],"nice":false,"zero":false},
"axis":{"orient":"right","values":[0,1,2,3,4,5],"labels":false,"title":null,"tickColor":"#1a1a1a","tickSize":7}},
"text":{"field":"label"}}}
]},
{"width":296,"height":214,
"title":{"text":"D","anchor":"start","frame":"group","dx":-53,"offset":-5.5,"fontSize":9.5,"fontWeight":"bold","baseline":"alphabetic"},
"resolve":{"scale":{"x":"independent","y":"independent"},"axis":{"x":"independent","y":"independent"}},
"layer":[
{"data":{"name":"D"},"mark":{"type":"line","strokeWidth":2.5,"interpolate":"monotone","opacity":0.9},
"encoding":{
"x":{"field":"t","type":"quantitative","scale":{"domain":[-0.4,35.4],"nice":false,"zero":false},
"axis":{"orient":"bottom","values":[0,1,2,3,4,5,6,7,8,9,10,11,12,13,14,15,16,17,18,19,20,21,22,23,24,25,26,27,28,29,30,31,32,33,34,35],"labelExpr":"datum.value % 5 == 0 ? datum.label : ''","tickColor":"#1a1a1a","tickSize":{"condition":{"test":"datum.value % 5 == 0","value":7},"value":4},"labelPadding":4,"labelOverlap":false,"labelFlush":false,"title":"𝑡   (Days after infection)","titlePadding":4}},
"y":{"field":"v","type":"quantitative","scale":{"domain":[-1.7,121],"nice":false,"zero":false},
"axis":{"orient":"left","values":[0,20,40,60,80,100],"tickColor":"#1a1a1a","tickSize":7,"labelPadding":2,"minExtent":30,"maxExtent":30,"title":"[Tfh] (cells/ml)","titlePadding":11}},
"color":{"field":"s","type":"nominal","scale":{"domain":["g9","g8","b5","b0","k","p"],"range":["#5ba43b","#5ba43b","#4b55f0","#4b55f0","#474747","#e8a5a5"]},"legend":null},
"strokeDash":{"field":"s","type":"nominal","scale":{"domain":["g9","g8","b5","b0","k","p"],"range":[[7,4],[1,0],[7,4],[1,0],[1,0],[1,0]]},"legend":null}
}},
{"data":{"name":"Dann"},"mark":{"type":"text","align":"right","baseline":"middle","fontSize":13,"color":"#111"},
"encoding":{"x":{"field":"t","type":"quantitative","scale":{"domain":[-0.4,35.4],"nice":false,"zero":false},
"axis":{"orient":"top","values":[0,1,2,3,4,5,6,7,8,9,10,11,12,13,14,15,16,17,18,19,20,21,22,23,24,25,26,27,28,29,30,31,32,33,34,35],"labels":false,"title":null,"tickColor":"#1a1a1a","tickSize":{"condition":{"test":"datum.value % 5 == 0","value":7},"value":4}}},
"y":{"field":"v","type":"quantitative","scale":{"domain":[-1.7,121],"nice":false,"zero":false},
"axis":{"orient":"right","values":[0,20,40,60,80,100],"labels":false,"title":null,"tickColor":"#1a1a1a","tickSize":7}},
"text":{"field":"label"}}}
]},
{"width":301,"height":214,
"title":{"text":"E","anchor":"start","frame":"group","dx":-53,"offset":-5.5,"fontSize":9.5,"fontWeight":"bold","baseline":"alphabetic"},
"resolve":{"scale":{"x":"independent","y":"independent"},"axis":{"x":"independent","y":"independent"}},
"layer":[
{"data":{"name":"E"},"mark":{"type":"line","strokeWidth":2.5,"interpolate":"monotone","opacity":0.9},
"encoding":{
"x":{"field":"t","type":"quantitative","scale":{"domain":[-0.32,35.35],"nice":false,"zero":false},
"axis":{"orient":"bottom","values":[0,1,2,3,4,5,6,7,8,9,10,11,12,13,14,15,16,17,18,19,20,21,22,23,24,25,26,27,28,29,30,31,32,33,34,35],"labelExpr":"datum.value % 5 == 0 ? datum.label : ''","tickColor":"#1a1a1a","tickSize":{"condition":{"test":"datum.value % 5 == 0","value":7},"value":4},"labelPadding":4,"labelOverlap":false,"labelFlush":false,"title":"𝑡   (Days after infection)","titlePadding":4}},
"y":{"field":"v","type":"quantitative","scale":{"domain":[-7.4,520.5],"nice":false,"zero":false},
"axis":{"orient":"left","values":[0,100,200,300,400,500],"tickColor":"#1a1a1a","tickSize":7,"labelPadding":2,"minExtent":30,"maxExtent":30,"title":"[CTLᵣ] (cells/ml)","titlePadding":14.5}},
"color":{"field":"s","type":"nominal","scale":{"domain":["g9","g8","b5","b0","k","p"],"range":["#5ba43b","#5ba43b","#4b55f0","#4b55f0","#474747","#e8a5a5"]},"legend":null},
"strokeDash":{"field":"s","type":"nominal","scale":{"domain":["g9","g8","b5","b0","k","p"],"range":[[7,4],[1,0],[7,4],[1,0],[1,0],[1,0]]},"legend":null}
}},
{"data":{"name":"Eann"},"mark":{"type":"text","align":"left","baseline":"middle","fontSize":13,"color":"#111"},
"encoding":{"x":{"field":"t","type":"quantitative","scale":{"domain":[-0.32,35.35],"nice":false,"zero":false},
"axis":{"orient":"top","values":[0,1,2,3,4,5,6,7,8,9,10,11,12,13,14,15,16,17,18,19,20,21,22,23,24,25,26,27,28,29,30,31,32,33,34,35],"labels":false,"title":null,"tickColor":"#1a1a1a","tickSize":{"condition":{"test":"datum.value % 5 == 0","value":7},"value":4}}},
"y":{"field":"v","type":"quantitative","scale":{"domain":[-7.4,520.5],"nice":false,"zero":false},
"axis":{"orient":"right","values":[0,100,200,300,400,500],"labels":false,"title":null,"tickColor":"#1a1a1a","tickSize":7}},
"text":{"field":"label"}}},
{"data":{"name":"Earr"},"mark":{"type":"rule","color":"#000","strokeWidth":1},
"encoding":{"x":{"field":"t","type":"quantitative","scale":{"domain":[-0.32,35.35],"nice":false,"zero":false},"axis":null},"x2":{"field":"t2"},
"y":{"field":"v","type":"quantitative","scale":{"domain":[-7.4,520.5],"nice":false,"zero":false},"axis":null},"y2":{"field":"v2"}}},
{"data":{"name":"Earr"},"mark":{"type":"point","shape":"triangle-right","filled":true,"color":"#000","size":70,"angle":134,"opacity":1},
"encoding":{"x":{"field":"t2","type":"quantitative","scale":{"domain":[-0.32,35.35],"nice":false,"zero":false},"axis":null},
"y":{"field":"v2","type":"quantitative","scale":{"domain":[-7.4,520.5],"nice":false,"zero":false},"axis":null}}}
]},
{"width":296,"height":214,
"title":{"text":"F","anchor":"start","frame":"group","dx":-53,"offset":-5.5,"fontSize":9.5,"fontWeight":"bold","baseline":"alphabetic"},
"resolve":{"scale":{"x":"independent","y":"independent"},"axis":{"x":"independent","y":"independent"}},
"layer":[
{"data":{"name":"F"},"mark":{"type":"line","strokeWidth":2.5,"interpolate":"monotone","opacity":0.9},
"encoding":{
"x":{"field":"t","type":"quantitative","scale":{"domain":[-0.4,35.4],"nice":false,"zero":false},
"axis":{"orient":"bottom","values":[0,1,2,3,4,5,6,7,8,9,10,11,12,13,14,15,16,17,18,19,20,21,22,23,24,25,26,27,28,29,30,31,32,33,34,35],"labelExpr":"datum.value % 5 == 0 ? datum.label : ''","tickColor":"#1a1a1a","tickSize":{"condition":{"test":"datum.value % 5 == 0","value":7},"value":4},"labelPadding":4,"labelOverlap":false,"labelFlush":false,"title":"𝑡   (Days after infection)","titlePadding":4}},
"y":{"field":"v","type":"quantitative","scale":{"domain":[-6.2,328.5],"nice":false,"zero":false},
"axis":{"orient":"left","values":[0,50,100,150,200,250,300],"labelExpr":"datum.value == 300 ? '300 x10³' : datum.label","tickColor":"#1a1a1a","tickSize":7,"labelPadding":2,"minExtent":30,"maxExtent":30,"title":"[Ig]   (molecules/ml)","titlePadding":14}},
"color":{"field":"s","type":"nominal","scale":{"domain":["g9","g8","b5","b0","k","p"],"range":["#5ba43b","#5ba43b","#4b55f0","#4b55f0","#474747","#e8a5a5"]},"legend":null},
"strokeDash":{"field":"s","type":"nominal","scale":{"domain":["g9","g8","b5","b0","k","p"],"range":[[7,4],[1,0],[7,4],[1,0],[1,0],[1,0]]},"legend":null}
}},
{"data":{"name":"Fann"},"mark":{"type":"text","align":"right","baseline":"middle","fontSize":13,"color":"#111"},
"encoding":{"x":{"field":"t","type":"quantitative","scale":{"domain":[-0.4,35.4],"nice":false,"zero":false},
"axis":{"orient":"top","values":[0,1,2,3,4,5,6,7,8,9,10,11,12,13,14,15,16,17,18,19,20,21,22,23,24,25,26,27,28,29,30,31,32,33,34,35],"labels":false,"title":null,"tickColor":"#1a1a1a","tickSize":{"condition":{"test":"datum.value % 5 == 0","value":7},"value":4}}},
"y":{"field":"v","type":"quantitative","scale":{"domain":[-6.2,328.5],"nice":false,"zero":false},
"axis":{"orient":"right","values":[0,50,100,150,200,250,300],"labels":false,"title":null,"tickColor":"#1a1a1a","tickSize":7}},
"text":{"field":"label"}}},
{"data":{"name":"Farr"},"mark":{"type":"rule","color":"#000","strokeWidth":1},
"encoding":{"x":{"field":"t","type":"quantitative","scale":{"domain":[-0.4,35.4],"nice":false,"zero":false},"axis":null},"x2":{"field":"t2"},
"y":{"field":"v","type":"quantitative","scale":{"domain":[-6.2,328.5],"nice":false,"zero":false},"axis":null},"y2":{"field":"v2"}}},
{"data":{"name":"Farr"},"mark":{"type":"point","shape":"triangle-right","filled":true,"color":"#000","size":70,"angle":-8,"opacity":1},
"encoding":{"x":{"field":"t2","type":"quantitative","scale":{"domain":[-0.4,35.4],"nice":false,"zero":false},"axis":null},
"y":{"field":"v2","type":"quantitative","scale":{"domain":[-6.2,328.5],"nice":false,"zero":false},"axis":null}}}
]}
]
}
